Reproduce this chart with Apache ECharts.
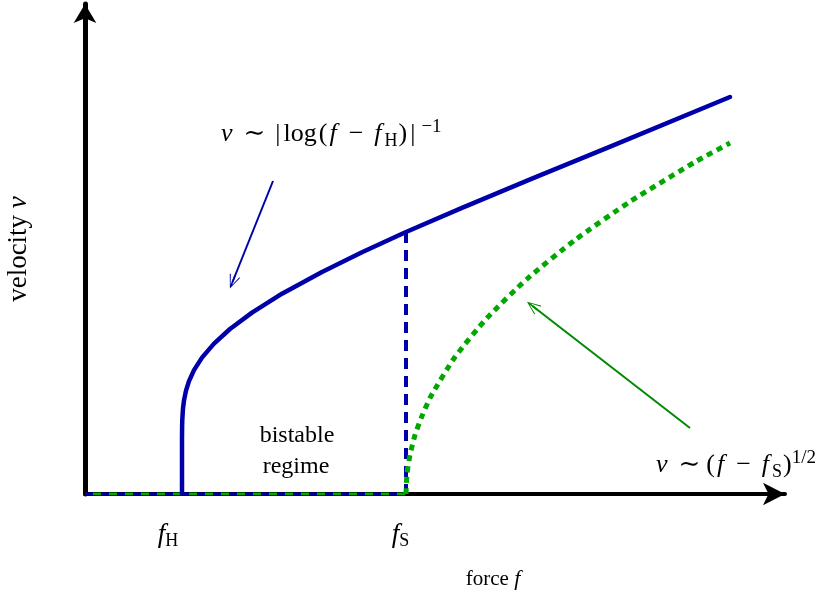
<!DOCTYPE html>
<html>
<head>
<meta charset="utf-8">
<script src="https://cdn.jsdelivr.net/npm/echarts@6/dist/echarts.min.js"></script>
<style>
  html, body { margin: 0; padding: 0; background: #fff; }
  #chart { width: 824px; height: 596px; }
</style>
</head>
<body>
<div id="chart"></div>
<script>
// Threshold forces marked on the force axis: f_H and f_S
const forceMarks = [0.97, 3.21];
const forceMarkSubs = ['H', 'S'];

// Hopping branch: sets in at f_H and grows like |log(f - f_H)|^-1
const hopForce    = [0.97, 0.97, 0.971, 0.973, 0.98, 0.99, 1.01, 1.04, 1.09, 1.17, 1.29, 1.45, 1.67, 1.97, 2.37, 2.77, 3.21, 3.77, 4.47, 5.27, 6.45];
const hopVelocity = [0.00, 0.54, 0.665, 0.744, 0.856, 0.936, 1.034, 1.129, 1.239, 1.364, 1.504, 1.650, 1.814, 2.003, 2.221, 2.417, 2.620, 2.861, 3.153, 3.482, 3.970];

// Sliding branch: sets in at f_S and grows like (f - f_S)^(1/2)
const slideForce    = [3.21, 3.22, 3.25, 3.30, 3.37, 3.46, 3.70, 4.02, 4.42, 4.90, 5.46, 6.10, 6.45];
const slideVelocity = [0.00, 0.20, 0.39, 0.59, 0.78, 0.98, 1.37, 1.76, 2.15, 2.54, 2.93, 3.32, 3.51];

// Drop of the hopping branch back to rest at f_S
const dropForce    = [3.21, 3.21];
const dropVelocity = [2.62, 0.00];

// Resting state below f_S (both branches)
const restForce    = [0.00, 3.21];
const restVelocity = [0.00, 0.00];

// Pointers from the scaling laws to their curves: [from, to] in (f, v)
const hopPointer   = [[1.88, 3.13], [1.475, 2.12]];
const slidePointer = [[6.05, 0.66], [4.475, 1.88]];

const BLUE = '#0000aa';
const GREEN = '#00a800';
const SERIF = '"Liberation Serif", "DejaVu Serif", serif';

const zip = (xs, ys) => xs.map((x, i) => [x, ys[i]]);

// Open (LaTeX-style) arrow head with a short stem so the shaft reaches the tip
const openHead = 'path://M0,0 L6,14 L5,14.6 L0.9,4.2 L0.9,14 L-0.9,14 L-0.9,4.2 L-5,14.6 L-6,14 Z';

function pointer(coords, color) {
  return {
    silent: true,
    symbol: ['none', openHead],
    symbolSize: [11, 14],
    label: { show: false },
    lineStyle: { color: color, width: 2, type: 'solid' },
    emphasis: { disabled: true },
    data: [[{ coord: coords[0] }, { coord: coords[1] }]]
  };
}

// Rich-text pieces for the two scaling laws
function mathRich(relGap, supGap) {
  return {
    i:   { fontStyle: 'italic', fontSize: 26, fontFamily: SERIF, padding: [0, 3, 0, 2] },
    rel: { fontSize: 26, fontFamily: SERIF, padding: [0, relGap, 0, 8] },
    bin: { fontSize: 26, fontFamily: SERIF, padding: [0, 9, 0, 9] },
    g:   { fontSize: 26, fontFamily: SERIF, padding: [0, 2, 0, 3] },
    s:   { fontSize: 18, fontFamily: SERIF, padding: [14, 1, 0, 0] },
    p:   { fontSize: 19, fontFamily: SERIF, padding: [0, 0, 14, supGap] }
  };
}

const chart = echarts.init(document.getElementById('chart'), null, { renderer: 'canvas' });

chart.setOption({
  animation: false,
  backgroundColor: '#fff',
  grid: { left: 85, right: 39, top: 4, bottom: 102, containLabel: false, outerBoundsMode: 'none' },
  xAxis: {
    type: 'value',
    min: 0,
    max: 7.0,
    offset: 3,
    splitLine: { show: false },
    axisTick: { show: false },
    axisLine: {
      show: true,
      symbol: ['none', 'arrow'],
      symbolSize: [17, 22],
      lineStyle: { color: '#000', width: 4 }
    },
    axisLabel: {
      customValues: forceMarks,
      margin: 23,
      fontFamily: SERIF,
      fontSize: 24,
      color: '#000',
      formatter: (v) => {
        const k = forceMarks.indexOf(v);
        return '{i|f}{s' + k + '|' + forceMarkSubs[k] + '}';
      },
      rich: {
        i: { fontStyle: 'italic', fontSize: 27, fontFamily: SERIF },
        s0: { fontSize: 18, fontFamily: SERIF, padding: [12, 28, 0, 0] },
        s1: { fontSize: 18, fontFamily: SERIF, padding: [12, 11, 0, 0] }
      }
    },
    name: 'force {i|f}',
    nameLocation: 'middle',
    nameGap: 71,
    nameTextStyle: {
      fontFamily: SERIF,
      fontSize: 21,
      color: '#000',
      padding: [0, 0, 0, 116],
      rich: { i: { fontStyle: 'italic', fontSize: 22, fontFamily: SERIF } }
    }
  },
  yAxis: {
    type: 'value',
    min: 0,
    max: 4.9,
    splitLine: { show: false },
    axisTick: { show: false },
    axisLabel: { show: false },
    axisLine: {
      show: true,
      symbol: ['none', 'arrow'],
      symbolSize: [17, 19],
      lineStyle: { color: '#000', width: 5 }
    },
    name: 'velocity {i|v}',
    nameLocation: 'middle',
    nameGap: 53,
    nameTextStyle: {
      fontFamily: SERIF,
      fontSize: 27,
      color: '#000',
      rich: { i: { fontStyle: 'italic', fontSize: 27, fontFamily: SERIF } }
    }
  },
  series: [
    {
      type: 'line', silent: true, symbol: 'none', z: 2,
      data: zip(restForce, restVelocity),
      lineStyle: { color: BLUE, width: 3, type: [8, 8] }
    },
    {
      type: 'line', silent: true, symbol: 'none', z: 2,
      data: zip(restForce, restVelocity),
      lineStyle: { color: GREEN, width: 3, type: [8, 8], dashOffset: 8 }
    },
    {
      type: 'line', silent: true, symbol: 'none', z: 3,
      data: zip(dropForce, dropVelocity),
      lineStyle: { color: BLUE, width: 4, type: [11, 7] }
    },
    {
      type: 'line', silent: true, symbol: 'none', z: 4,
      data: zip(hopForce, hopVelocity),
      lineStyle: { color: BLUE, width: 4.5, cap: 'round', join: 'round' },
      markLine: pointer(hopPointer, BLUE)
    },
    {
      type: 'line', silent: true, symbol: 'none', z: 3,
      smooth: 0.2,
      data: zip(slideForce, slideVelocity),
      lineStyle: { color: GREEN, width: 5, type: [6, 5] },
      markLine: pointer(slidePointer, '#008a00')
    }
  ],
  graphic: [
    {
      type: 'text', left: 221, top: 118,
      style: {
        text: '{i|v}{rel|∼}|{g|log}({i|f}{bin|−}{i|f}{s|H}){g||}{p|−1}',
        fontFamily: SERIF, fontSize: 26, fill: '#000',
        rich: mathRich(10, 4)
      }
    },
    {
      type: 'text', left: 656, top: 449,
      style: {
        text: '{i|v}{rel|∼}({i|f}{bin|−}{i|f}{s|S}){p|1/2}',
        fontFamily: SERIF, fontSize: 26, fill: '#000',
        rich: mathRich(6, 0)
      }
    },
    {
      type: 'text', x: 297, y: 436,
      style: {
        text: 'bistable', fontFamily: SERIF, fontSize: 24, fill: '#000',
        align: 'center', verticalAlign: 'middle'
      }
    },
    {
      type: 'text', x: 296, y: 467,
      style: {
        text: 'regime', fontFamily: SERIF, fontSize: 24, fill: '#000',
        align: 'center', verticalAlign: 'middle'
      }
    }
  ]
});
</script>
</body>
</html>
